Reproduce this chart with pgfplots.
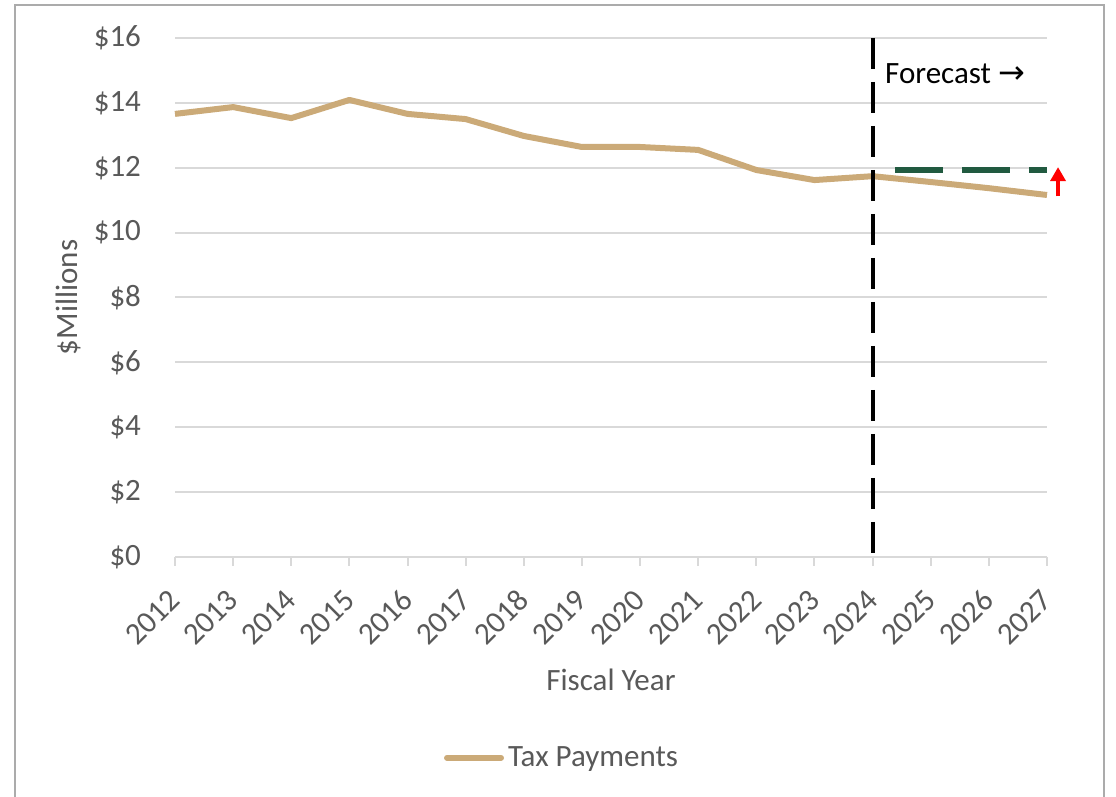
\documentclass[border=0pt]{standalone}
\usepackage{pgfplots}
\pgfplotsset{compat=1.18}
\usepackage{fontspec}
\setmainfont{Carlito}
\newfontfamily\djv{DejaVu Sans}
\usetikzlibrary{arrows.meta}
\definecolor{tan}{RGB}{203,170,120}
\definecolor{dgreen}{RGB}{33,90,64}
\definecolor{txtgray}{RGB}{89,89,89}
\definecolor{gridgray}{RGB}{217,217,217}
\definecolor{framegray}{RGB}{171,171,171}
\pgfplotstableread{
year val
2012 13.66
2013 13.87
2014 13.53
2015 14.09
2016 13.66
2017 13.50
2018 12.98
2019 12.64
2020 12.64
2021 12.55
2022 11.93
2023 11.62
2024 11.74
2025 11.56
2026 11.37
2027 11.16
}\taxdata
\begin{document}
\begin{tikzpicture}
\begin{axis}[
  at={(87.5pt,120pt)}, anchor=south west,
  width=436pt, height=259.5pt, scale only axis,
  xmin=2012, xmax=2027, ymin=0, ymax=16,
  clip=false,
  font=\fontsize{15.5}{18}\selectfont,
  axis line style={draw=none},
  axis x line*=bottom,
  x axis line style={draw=gridgray, line width=1pt},
  xtick={2012,...,2027},
  xticklabel style={rotate=45, anchor=east, xshift=-6.8pt, yshift=-10.2pt, text=txtgray},
  xticklabels={2012,2013,2014,2015,2016,2017,2018,2019,2020,2021,2022,2023,2024,2025,2026,2027},
  tick align=outside,
  xtick style={draw=gridgray, line width=1pt},
  major tick length=4.5pt,
  ytick={0,2,...,16},
  yticklabels={\$0,\$2,\$4,\$6,\$8,\$10,\$12,\$14,\$16},
  ytick style={draw=none},
  yticklabel style={text=txtgray, xshift=-9pt},
  ymajorgrids, grid style={gridgray, line width=1pt},
  axis y line*=left,
  xlabel={Fiscal Year},
  xlabel style={at={(axis description cs:0.5,-0.237)}, anchor=center, text=txtgray},
  ylabel={\$Millions},
  ylabel style={at={(axis description cs:-0.1227,0.5)}, anchor=center, rotate=0, text=txtgray},
  legend style={at={(axis description cs:0.445,-0.387)}, anchor=center, draw=none, fill=none, text=txtgray, font=\fontsize{15.5}{18}\selectfont},
  legend image code/.code={\draw[line width=3pt, line cap=round, tan] (0pt,0pt) -- (27pt,0pt);},
]
\addplot[tan, line width=3pt, line join=round] table[x=year, y=val] {\taxdata};
\addlegendentry{Tax Payments}
\addplot[black, line width=2pt, dash pattern=on 15.5pt off 6.5pt, forget plot] coordinates {(2024,16) (2024,0)};
\addplot[dgreen, line width=3pt, dash pattern=on 24pt off 9.5pt, forget plot] coordinates {(2024.39,11.93) (2027,11.93)};
\addplot[red, line width=2pt, -{Triangle[length=7pt,width=7.5pt]}, forget plot] coordinates {(2027.19,11.12) (2027.19,12.02)};
\node[anchor=west, inner sep=0pt, font=\fontsize{15.5}{18}\selectfont] at (axis cs:2024.21,14.89) {Forecast {\djv\fontsize{16}{18}\selectfont →}};
\end{axis}
\useasboundingbox (0,0) rectangle (558pt,398.5pt);
\draw[framegray, line width=1pt] (7.5pt,-5pt) -- (7.5pt,396pt) -- (552pt,396pt) -- (552pt,-5pt);
\end{tikzpicture}
\end{document}
